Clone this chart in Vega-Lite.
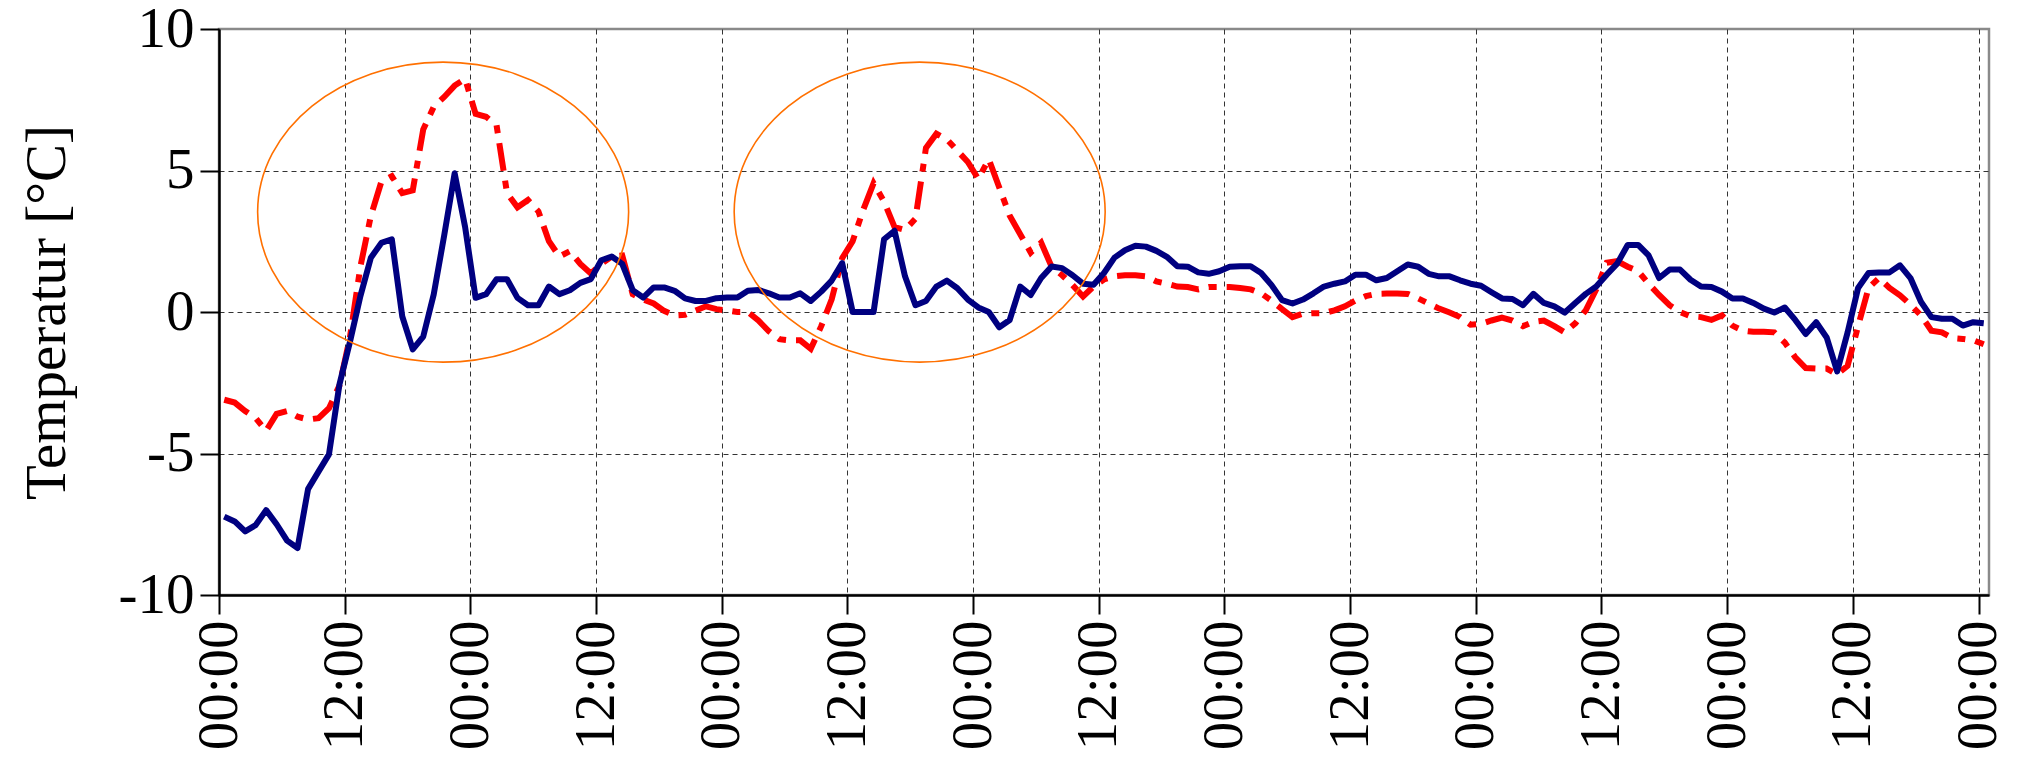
{
  "$schema": "https://vega.github.io/schema/vega-lite/v6.json",
  "width": 1770,
  "height": 566,
  "autosize": {"type": "none"},
  "padding": {"left": 219, "top": 29, "right": 34, "bottom": 167},
  "background": "white",
  "config": {
    "font": "Liberation Serif",
    "view": {"stroke": "#8a8a8a", "strokeWidth": 2.5},
    "axis": {
      "labelFont": "Liberation Serif",
      "labelFontSize": 57,
      "labelColor": "black",
      "labelPadding": 6,
      "tickSize": 19,
      "tickWidth": 2,
      "tickColor": "black",
      "domainColor": "black",
      "domainWidth": 2.5,
      "grid": true,
      "gridDash": [5, 4],
      "gridColor": "#333333",
      "gridWidth": 1,
      "labelOverlap": false,
      "labelFlush": false,
      "titleFont": "Liberation Serif",
      "titleFontWeight": "normal",
      "titleColor": "black"
    }
  },
  "datasets": {
    "temps": [
      {"h":0.5,"T1":-7.23,"T2":-3.1},{"h":1.5,"T1":-7.4,"T2":-3.2},{"h":2.5,"T1":-7.75,"T2":-3.5},{"h":3.5,"T1":-7.53,"T2":-3.75},{"h":4.5,"T1":-7.0,"T2":-4.2},
      {"h":5.5,"T1":-7.5,"T2":-3.6},{"h":6.5,"T1":-8.08,"T2":-3.5},{"h":7.5,"T1":-8.34,"T2":-3.7},{"h":8.5,"T1":-6.26,"T2":-3.8},{"h":9.5,"T1":-5.64,"T2":-3.75},
      {"h":10.5,"T1":-5.03,"T2":-3.4},{"h":11.5,"T1":-2.56,"T2":-2.6},{"h":12.5,"T1":-1.06,"T2":-0.9},{"h":13.5,"T1":0.56,"T2":1.6},{"h":14.5,"T1":1.92,"T2":3.4},
      {"h":15.5,"T1":2.44,"T2":4.6},{"h":16.5,"T1":2.57,"T2":4.8},{"h":17.5,"T1":-0.16,"T2":4.2},{"h":18.5,"T1":-1.32,"T2":4.3},{"h":19.5,"T1":-0.87,"T2":6.45},
      {"h":20.5,"T1":0.62,"T2":7.25},{"h":21.5,"T1":2.7,"T2":7.6},{"h":22.5,"T1":4.9,"T2":8.0},{"h":23.5,"T1":3.0,"T2":8.24},{"h":24.5,"T1":0.5,"T2":7.0},
      {"h":25.5,"T1":0.63,"T2":6.9},{"h":26.5,"T1":1.16,"T2":6.6},{"h":27.5,"T1":1.16,"T2":4.2},{"h":28.5,"T1":0.5,"T2":3.7},{"h":29.5,"T1":0.24,"T2":3.96},
      {"h":30.5,"T1":0.24,"T2":3.55},{"h":31.5,"T1":0.9,"T2":2.5},{"h":32.5,"T1":0.63,"T2":1.96},{"h":33.5,"T1":0.77,"T2":2.15},{"h":34.5,"T1":1.03,"T2":1.7},
      {"h":35.5,"T1":1.16,"T2":1.36},{"h":36.5,"T1":1.83,"T2":1.7},{"h":37.5,"T1":1.96,"T2":1.96},{"h":38.5,"T1":1.7,"T2":2.0},{"h":39.5,"T1":0.77,"T2":0.63},
      {"h":40.5,"T1":0.51,"T2":0.44},{"h":41.5,"T1":0.87,"T2":0.3},{"h":42.5,"T1":0.87,"T2":0.04},{"h":43.5,"T1":0.75,"T2":-0.12},{"h":44.5,"T1":0.48,"T2":-0.1},
      {"h":45.5,"T1":0.39,"T2":0.05},{"h":46.5,"T1":0.39,"T2":0.2},{"h":47.5,"T1":0.49,"T2":0.1},{"h":48.5,"T1":0.51,"T2":0.05},{"h":49.5,"T1":0.51,"T2":0.0},
      {"h":50.5,"T1":0.75,"T2":0.0},{"h":51.5,"T1":0.78,"T2":-0.3},{"h":52.5,"T1":0.66,"T2":-0.68},{"h":53.5,"T1":0.51,"T2":-0.96},{"h":54.5,"T1":0.51,"T2":-1.0},
      {"h":55.5,"T1":0.66,"T2":-1.0},{"h":56.5,"T1":0.39,"T2":-1.3},{"h":57.5,"T1":0.72,"T2":-0.5},{"h":58.5,"T1":1.11,"T2":0.45},{"h":59.5,"T1":1.73,"T2":1.9},
      {"h":60.5,"T1":0.0,"T2":2.5},{"h":61.5,"T1":0.0,"T2":3.6},{"h":62.5,"T1":0.0,"T2":4.55},{"h":63.5,"T1":2.57,"T2":3.9},{"h":64.5,"T1":2.87,"T2":3.0},
      {"h":65.5,"T1":1.26,"T2":2.9},{"h":66.5,"T1":0.24,"T2":3.3},{"h":67.5,"T1":0.39,"T2":5.8},{"h":68.5,"T1":0.9,"T2":6.3},{"h":69.5,"T1":1.11,"T2":6.1},
      {"h":70.5,"T1":0.84,"T2":5.7},{"h":71.5,"T1":0.44,"T2":5.3},{"h":72.5,"T1":0.16,"T2":4.7},{"h":73.5,"T1":0.0,"T2":5.4},{"h":74.5,"T1":-0.54,"T2":4.4},
      {"h":75.5,"T1":-0.28,"T2":3.4},{"h":76.5,"T1":0.9,"T2":2.75},{"h":77.5,"T1":0.6,"T2":2.1},{"h":78.5,"T1":1.2,"T2":2.45},{"h":79.5,"T1":1.61,"T2":1.6},
      {"h":80.5,"T1":1.55,"T2":1.3},{"h":81.5,"T1":1.3,"T2":0.95},{"h":82.5,"T1":1.0,"T2":0.55},{"h":83.5,"T1":0.96,"T2":0.9},{"h":84.5,"T1":1.38,"T2":1.15},
      {"h":85.5,"T1":1.92,"T2":1.26},{"h":86.5,"T1":2.18,"T2":1.3},{"h":87.5,"T1":2.34,"T2":1.3},{"h":88.5,"T1":2.31,"T2":1.26},{"h":89.5,"T1":2.16,"T2":1.08},
      {"h":90.5,"T1":1.95,"T2":1.0},{"h":91.5,"T1":1.62,"T2":0.9},{"h":92.5,"T1":1.6,"T2":0.88},{"h":93.5,"T1":1.4,"T2":0.8},{"h":94.5,"T1":1.35,"T2":0.88},
      {"h":95.5,"T1":1.44,"T2":0.88},{"h":96.5,"T1":1.6,"T2":0.88},{"h":97.5,"T1":1.62,"T2":0.85},{"h":98.5,"T1":1.62,"T2":0.8},{"h":99.5,"T1":1.38,"T2":0.66},
      {"h":100.5,"T1":0.95,"T2":0.4},{"h":101.5,"T1":0.42,"T2":0.1},{"h":102.5,"T1":0.3,"T2":-0.18},{"h":103.5,"T1":0.44,"T2":-0.06},{"h":104.5,"T1":0.66,"T2":-0.04},
      {"h":105.5,"T1":0.9,"T2":-0.04},{"h":106.5,"T1":1.0,"T2":0.06},{"h":107.5,"T1":1.08,"T2":0.2},{"h":108.5,"T1":1.32,"T2":0.4},{"h":109.5,"T1":1.32,"T2":0.56},
      {"h":110.5,"T1":1.12,"T2":0.64},{"h":111.5,"T1":1.2,"T2":0.65},{"h":112.5,"T1":1.44,"T2":0.65},{"h":113.5,"T1":1.68,"T2":0.64},{"h":114.5,"T1":1.6,"T2":0.48},
      {"h":115.5,"T1":1.35,"T2":0.3},{"h":116.5,"T1":1.26,"T2":0.12},{"h":117.5,"T1":1.26,"T2":-0.02},{"h":118.5,"T1":1.12,"T2":-0.18},{"h":119.5,"T1":1.0,"T2":-0.45},
      {"h":120.5,"T1":0.93,"T2":-0.42},{"h":121.5,"T1":0.7,"T2":-0.3},{"h":122.5,"T1":0.48,"T2":-0.2},{"h":123.5,"T1":0.46,"T2":-0.3},{"h":124.5,"T1":0.24,"T2":-0.5},
      {"h":125.5,"T1":0.64,"T2":-0.35},{"h":126.5,"T1":0.32,"T2":-0.3},{"h":127.5,"T1":0.2,"T2":-0.5},{"h":128.5,"T1":-0.02,"T2":-0.72},{"h":129.5,"T1":0.32,"T2":-0.4},
      {"h":130.5,"T1":0.64,"T2":0.06},{"h":131.5,"T1":0.9,"T2":0.8},{"h":132.5,"T1":1.32,"T2":1.74},{"h":133.5,"T1":1.71,"T2":1.8},{"h":134.5,"T1":2.37,"T2":1.6},
      {"h":135.5,"T1":2.37,"T2":1.44},{"h":136.5,"T1":2.0,"T2":1.0},{"h":137.5,"T1":1.2,"T2":0.6},{"h":138.5,"T1":1.5,"T2":0.24},{"h":139.5,"T1":1.5,"T2":0.0},
      {"h":140.5,"T1":1.14,"T2":-0.15},{"h":141.5,"T1":0.9,"T2":-0.18},{"h":142.5,"T1":0.88,"T2":-0.28},{"h":143.5,"T1":0.72,"T2":-0.12},{"h":144.5,"T1":0.48,"T2":-0.48},
      {"h":145.5,"T1":0.48,"T2":-0.66},{"h":146.5,"T1":0.32,"T2":-0.7},{"h":147.5,"T1":0.12,"T2":-0.7},{"h":148.5,"T1":-0.02,"T2":-0.72},{"h":149.5,"T1":0.16,"T2":-1.08},
      {"h":150.5,"T1":-0.28,"T2":-1.6},{"h":151.5,"T1":-0.78,"T2":-1.98},{"h":152.5,"T1":-0.36,"T2":-2.0},{"h":153.5,"T1":-0.9,"T2":-2.0},{"h":154.5,"T1":-2.1,"T2":-2.2},
      {"h":155.5,"T1":-0.72,"T2":-1.9},{"h":156.5,"T1":0.85,"T2":-0.5},{"h":157.5,"T1":1.38,"T2":0.85},{"h":158.5,"T1":1.4,"T2":1.2},{"h":159.5,"T1":1.4,"T2":0.85},
      {"h":160.5,"T1":1.65,"T2":0.59},{"h":161.5,"T1":1.2,"T2":0.26},{"h":162.5,"T1":0.36,"T2":-0.12},{"h":163.5,"T1":-0.18,"T2":-0.66},{"h":164.5,"T1":-0.24,"T2":-0.72},
      {"h":165.5,"T1":-0.24,"T2":-0.92},{"h":166.5,"T1":-0.48,"T2":-0.95},{"h":167.5,"T1":-0.36,"T2":-1.0},{"h":168.5,"T1":-0.4,"T2":-1.14}
    ],
    "marks": [
      {"h": 21.4, "T": 3.53},
      {"h": 66.9, "T": 3.53}
    ]
  },
  "encoding": {
    "x": {
      "field": "h", "type": "quantitative",
      "scale": {"domain": [0, 169], "nice": false, "zero": false},
      "axis": {
        "title": null,
        "values": [0, 12, 24, 36, 48, 60, 72, 84, 96, 108, 120, 132, 144, 156, 168],
        "labelExpr": "datum.value % 24 == 0 ? '00:00' : '12:00'",
        "labelAngle": -90
      }
    },
    "y": {
      "field": "T", "type": "quantitative",
      "scale": {"domain": [-10, 10], "nice": false, "zero": false},
      "axis": {
        "title": "Temperatur [°C]",
        "titleFontSize": 57,
        "titlePadding": 42,
        "values": [-10, -5, 0, 5, 10],
        "labelExpr": "'' + datum.value",
        "gridOpacity": {"condition": {"test": "abs(datum.value) == 10", "value": 0}, "value": 1}
      }
    }
  },
  "layer": [
    {
      "data": {"name": "temps"},
      "transform": [{"fold": ["T2"], "as": ["series", "T"]}],
      "mark": {"type": "line", "color": "#FF0000", "strokeWidth": 6, "strokeDash": [28, 10, 8, 10], "strokeCap": "butt", "clip": true}
    },
    {
      "data": {"name": "temps"},
      "transform": [{"fold": ["T1"], "as": ["series", "T"]}],
      "mark": {"type": "line", "color": "#000080", "strokeWidth": 6, "strokeJoin": "round", "clip": true}
    },
    {
      "data": {"name": "marks"},
      "mark": {
        "type": "point",
        "shape": "M-1,0A1,0.8086,0,1,1,1,0A1,0.8086,0,1,1,-1,0Z",
        "size": 137641,
        "filled": false,
        "stroke": "#FF7000",
        "strokeWidth": 1.6,
        "opacity": 1
      }
    }
  ]
}
